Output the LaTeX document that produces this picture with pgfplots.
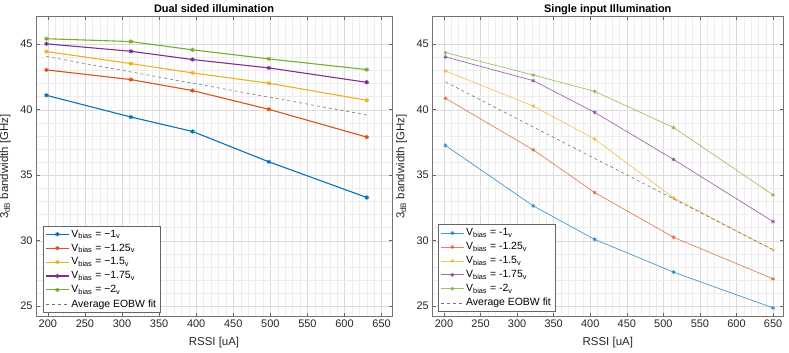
\documentclass[border=0pt]{standalone}
\usepackage{pgfplots}
\pgfplotsset{compat=1.18}
\usepackage{fontspec}
\setmainfont{Liberation Sans}

\definecolor{mblue}{rgb}{0,0.447,0.741}
\definecolor{morange}{rgb}{0.850,0.325,0.098}
\definecolor{myellow}{rgb}{0.929,0.694,0.125}
\definecolor{mpurple}{rgb}{0.494,0.184,0.556}
\definecolor{mgreen}{rgb}{0.466,0.674,0.188}
\definecolor{axgray}{rgb}{0.15,0.15,0.15}

\pgfplotsset{
  panel/.style={
    scale only axis,
    height=300bp,
    xmin=184, xmax=664,
    ymin=24.2, ymax=47.1,
    xtick={200,250,...,650},
    ytick={25,30,...,45},
    minor x tick num=4,
    minor y tick num=4,
    grid=both,
    major grid style={black!14, line width=0.4pt},
    minor grid style={black!7, line width=0.3pt},
    tick align=inside,
    major tick length=3.5bp,
    minor tick length=0pt,
    axis line style={black!55, line width=0.5pt},
    every tick/.style={black!60, line width=0.5pt},
    tick label style={font=\fontsize{11}{13}\selectfont, text=axgray},
    /pgf/number format/assume math mode=true,
    /pgf/number format/1000 sep={},
    label style={font=\fontsize{11.5}{13}\selectfont, text=axgray},
    title style={font=\bfseries\fontsize{11}{13}\selectfont, anchor=base, yshift=-1.5bp},
    xlabel={RSSI [uA]},
    ylabel={3\textsubscript{dB} bandwidth [GHz]},
    xlabel style={yshift=-2bp},
    ylabel style={yshift=3bp},
    legend cell align=left,
    legend style={
      font=\fontsize{10.5}{12}\selectfont,
      draw=black!60, fill=white, line width=0.5pt,
      inner sep=2bp, row sep=1.2bp,
      anchor=south west,
    },
    legend image code/.code={
      \draw[mark repeat=2, mark phase=2, #1]
        plot coordinates {(0bp,0bp) (11.5bp,0bp) (23bp,0bp)};
    },
  },
  dualline/.style={line width=1.1pt, mark=asterisk, mark size=2.1pt, mark options={line width=1.1pt}},
  singleline/.style={line width=0.7pt, mark=asterisk, mark size=2pt, mark options={line width=0.8pt}, opacity=0.72},
}

\begin{document}
\begin{tikzpicture}
\useasboundingbox (0bp,0bp) rectangle (789bp,353bp);

% Dual sided illumination
\begin{axis}[panel, width=356bp, at={(36bp,36.3bp)}, anchor=south west,
  title={Dual sided illumination},
  legend style={at={(0.02,0.013)}}]
\addplot[dualline, color=mblue] coordinates {(198,41.10) (312,39.44) (395,38.34) (498,36.02) (630,33.30)};
\addlegendentry{V\textsubscript{bias} = −1\textsubscript{v}}
\addplot[dualline, color=morange] coordinates {(198,43.04) (312,42.30) (395,41.46) (498,40.03) (630,37.91)};
\addlegendentry{V\textsubscript{bias} = −1.25\textsubscript{v}}
\addplot[dualline, color=myellow] coordinates {(198,44.44) (312,43.52) (395,42.81) (498,42.02) (630,40.72)};
\addlegendentry{V\textsubscript{bias} = −1.5\textsubscript{v}}
\addplot[dualline, color=mpurple] coordinates {(198,45.03) (312,44.46) (395,43.83) (498,43.19) (630,42.09)};
\addlegendentry{V\textsubscript{bias} = −1.75\textsubscript{v}}
\addplot[dualline, color=mgreen] coordinates {(198,45.42) (312,45.20) (395,44.57) (498,43.88) (630,43.06)};
\addlegendentry{V\textsubscript{bias} = −2\textsubscript{v}}
\addplot[black!55, dashed, line width=0.6pt] coordinates {(198,44.06) (630,39.60)};
\addlegendentry{Average EOBW fit}
\end{axis}

% Single input illumination
\begin{axis}[panel, width=351bp, at={(432.3bp,36.3bp)}, anchor=south west,
  title={Single input Illumination},
  legend style={at={(0.017,0.017)}}]
\addplot[singleline, color=mblue] coordinates {(202,37.27) (322,32.66) (406,30.10) (514,27.60) (650,24.87)};
\addlegendentry{V\textsubscript{bias} = -1\textsubscript{v}}
\addplot[singleline, color=morange] coordinates {(202,40.87) (322,36.94) (406,33.68) (514,30.26) (650,27.09)};
\addlegendentry{V\textsubscript{bias} = -1.25\textsubscript{v}}
\addplot[singleline, color=myellow] coordinates {(202,42.96) (322,40.28) (406,37.76) (514,33.27) (650,29.30)};
\addlegendentry{V\textsubscript{bias} = -1.5\textsubscript{v}}
\addplot[singleline, color=mpurple] coordinates {(202,44.03) (322,42.22) (406,39.80) (514,36.20) (650,31.46)};
\addlegendentry{V\textsubscript{bias} = -1.75\textsubscript{v}}
\addplot[singleline, color=mgreen] coordinates {(202,44.36) (322,42.65) (406,41.40) (514,38.63) (650,33.50)};
\addlegendentry{V\textsubscript{bias} = -2\textsubscript{v}}
\addplot[black!55, dashed, line width=0.6pt] coordinates {(202,42.12) (650,29.30)};
\addlegendentry{Average EOBW fit}
\end{axis}
\end{tikzpicture}
\end{document}
